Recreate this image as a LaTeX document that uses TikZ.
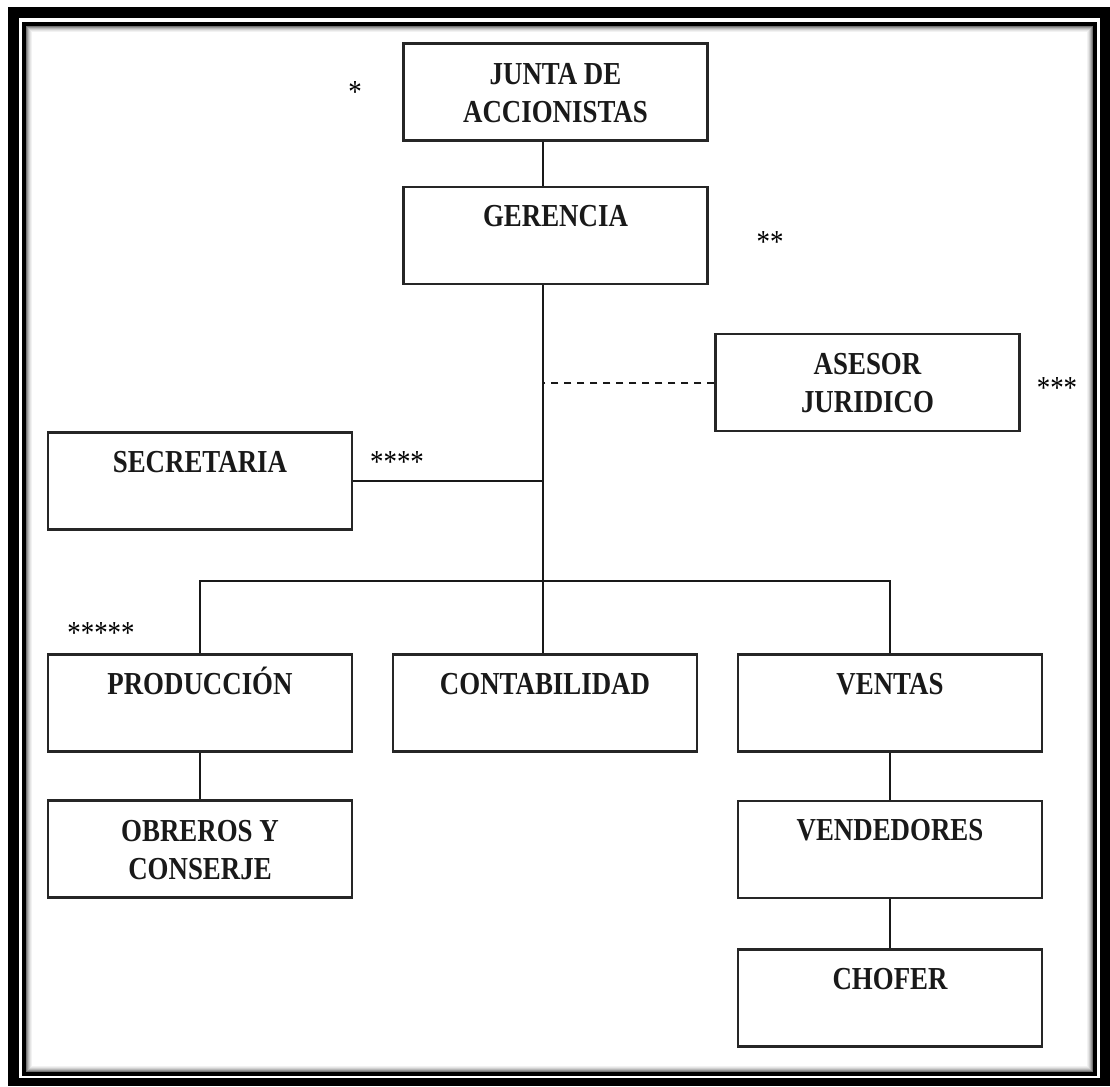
\documentclass[tikz,border=0pt]{standalone}
\usepackage{fontspec}
\setmainfont{Liberation Serif}
\newfontfamily\unitfont[FakeStretch=0.84]{Liberation Serif Bold}
\newfontfamily\markfont[FakeStretch=0.84]{Liberation Serif}
\begin{document}
\begin{tikzpicture}[x=1pt,y=-1pt,
  unit/.style={draw=black!85,line width=2.4pt,fill=white,minimum width=304pt,minimum height=97pt,inner sep=0pt},
  caption/.style={anchor=base,inner sep=0pt,align=center,font=\unitfont\fontsize{32}{38}\selectfont,text=black!90},
  stars/.style={anchor=base,inner sep=0pt,font=\markfont\fontsize{32}{38}\selectfont},
  link/.style={draw=black!90,line width=2pt},
  advice/.style={link,dash pattern=on 7pt off 6pt}]
\useasboundingbox (0,0) rectangle (1110,1086);
% frame: heavy outer band, white gap, inner rule and soft inner shade
\fill[black] (8,7) rectangle (1110,1086);
\fill[white] (19,18) rectangle (1100,1078);
\draw[black,line width=4pt] (24,24) rectangle (1095,1074);
\foreach \i/\g in {1/55,2/40,3/28,4/18,5/10,6/5}{
  \draw[black!\g,line width=1pt] (25.5+\i,25.5+\i) rectangle (1093.5-\i,1072.5-\i);
}

% units
\node[unit] (junta) at (555.5,92) {};
\node[unit] (gerencia) at (555.5,235.5) {};
\node[unit] (asesor) at (867.5,382.5) {};
\node[unit] (secretaria) at (200,481) {};
\node[unit] (produccion) at (200,703) {};
\node[unit] (contabilidad) at (545,703) {};
\node[unit] (ventas) at (890,703) {};
\node[unit] (obreros) at (200,849) {};
\node[unit] (vendedores) at (890,849.5) {};
\node[unit] (chofer) at (890,998) {};

% unit captions; a two-line caption sits on the baseline of its last line
\node[caption] (tjunta) at ([yshift=-80pt]junta.north) {JUNTA DE\\ACCIONISTAS};
\node[caption] (tgerencia) at ([yshift=-41pt]gerencia.north) {GERENCIA};
\node[caption] (tasesor) at ([yshift=-80pt]asesor.north) {ASESOR\\JURIDICO};
\node[caption] (tsecretaria) at ([yshift=-41pt]secretaria.north) {SECRETARIA};
\node[caption] (tproduccion) at ([yshift=-41pt]produccion.north) {PRODUCCIÓN};
\node[caption] (tcontabilidad) at ([yshift=-41pt]contabilidad.north) {CONTABILIDAD};
\node[caption] (tventas) at ([yshift=-41pt]ventas.north) {VENTAS};
\node[caption] (tobreros) at ([yshift=-80pt]obreros.north) {OBREROS Y\\CONSERJE};
\node[caption] (tvendedores) at ([yshift=-41pt]vendedores.north) {VENDEDORES};
\node[caption] (tchofer) at ([yshift=-41pt]chofer.north) {CHOFER};

% reference marks
\node[stars] (m1) at (355,103) {*};
\node[stars] (m2) at (770,252) {**};
\node[stars] (m3) at (1057,398) {***};
\node[stars] (m4) at (397,472) {****};
\node[stars] (m5) at (101,643) {*****};

% connectors
\coordinate (spine) at (543,0);
\coordinate (bus) at (543,581);
\draw[link] (junta.south -| spine) -- (gerencia.north -| spine);
\draw[link] (gerencia.south -| spine) -- (bus);
\draw[advice] (asesor.west) -- (asesor.west -| spine);
\draw[link] (secretaria.east) -- (secretaria.east -| spine);
\draw[link] (produccion.north) -- (bus -| produccion) -- (bus -| ventas) -- (ventas.north);
\draw[link] (bus) -- (contabilidad.north -| bus);
\draw[link] (produccion.south) -- (obreros.north);
\draw[link] (ventas.south) -- (vendedores.north);
\draw[link] (vendedores.south) -- (chofer.north);
\end{tikzpicture}
\end{document}
